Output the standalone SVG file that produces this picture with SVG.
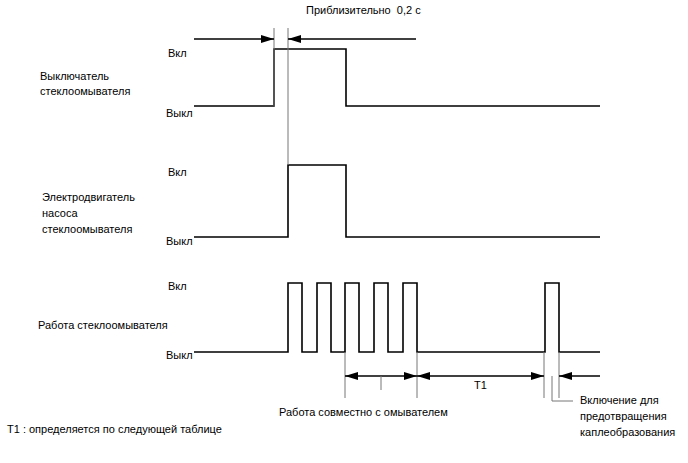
<svg xmlns="http://www.w3.org/2000/svg" width="688" height="463" viewBox="0 0 688 463">
<defs>
<style>
text{font-family:"Liberation Sans",Arial,sans-serif;font-size:11px;fill:#000}
.sig{fill:none;stroke:#000;stroke-width:1.6}
.thin{fill:none;stroke:#777;stroke-width:1}
.dim{fill:none;stroke:#000;stroke-width:1.4}
</style>
<marker id="arr" viewBox="0 0 13 8" refX="13" refY="4" markerWidth="13" markerHeight="8" markerUnits="userSpaceOnUse" orient="auto-start-reverse"><path d="M0,0 L13,4 L0,8 Z" fill="#000"/></marker>
</defs>
<rect width="688" height="463" fill="#fff"/>
<g id="labels">
<text x="306" y="14" xml:space="preserve">Приблизительно  0,2 с</text>
<text x="168" y="57">Вкл</text>
<text x="40" y="80">Выключатель</text>
<text x="40" y="95">стеклоомывателя</text>
<text x="166" y="117">Выкл</text>
<text x="168" y="176">Вкл</text>
<text x="42" y="201">Электродвигатель</text>
<text x="42" y="217">насоса</text>
<text x="42" y="233">стеклоомывателя</text>
<text x="166" y="245">Выкл</text>
<text x="168" y="290">Вкл</text>
<text x="38" y="329">Работа стеклоомывателя</text>
<text x="166" y="359">Выкл</text>
<text x="474" y="389">T1</text>
<text x="279" y="416">Работа совместно с омывателем</text>
<text x="580" y="404">Включение для</text>
<text x="580" y="420">предотвращения</text>
<text x="580" y="436">каплеобразования</text>
<text x="7" y="433">T1 : определяется по следующей таблице</text>
</g>
<g id="signal-switch"><path class="sig" d="M194,106 H274 V49 H346 V106 H600"/></g>
<g id="signal-motor"><path class="sig" d="M194,237 H288 V165 H346 V237 H600"/></g>
<g id="signal-wipe"><path class="sig" d="M194,352 H288 V283 H302 V352 H317 V283 H331 V352 H345 V283 H359 V352 H374 V283 H388 V352 H403 V283 H417 V352 H545 V283 H559 V352 H600"/></g>
<g id="connectors">
<path class="thin" d="M274,28 V106 M288,28 V165"/>
<path class="dim" d="M194,39 H274" marker-end="url(#arr)"/>
<path class="dim" d="M288,39 H416" marker-start="url(#arr)"/>
<path class="thin" d="M345,352 V398 M417,352 V398 M544,352 V398 M559,352 V398"/>
<path class="dim" d="M345,376 H417" marker-start="url(#arr)" marker-end="url(#arr)"/>
<path class="dim" d="M417,376 H544" marker-start="url(#arr)" marker-end="url(#arr)"/>
<path class="dim" d="M559,376 H600" marker-start="url(#arr)"/>
<path class="thin" d="M381,376 V390"/>
<path class="thin" d="M552,376 V401 H573"/>
</g>
</svg>
